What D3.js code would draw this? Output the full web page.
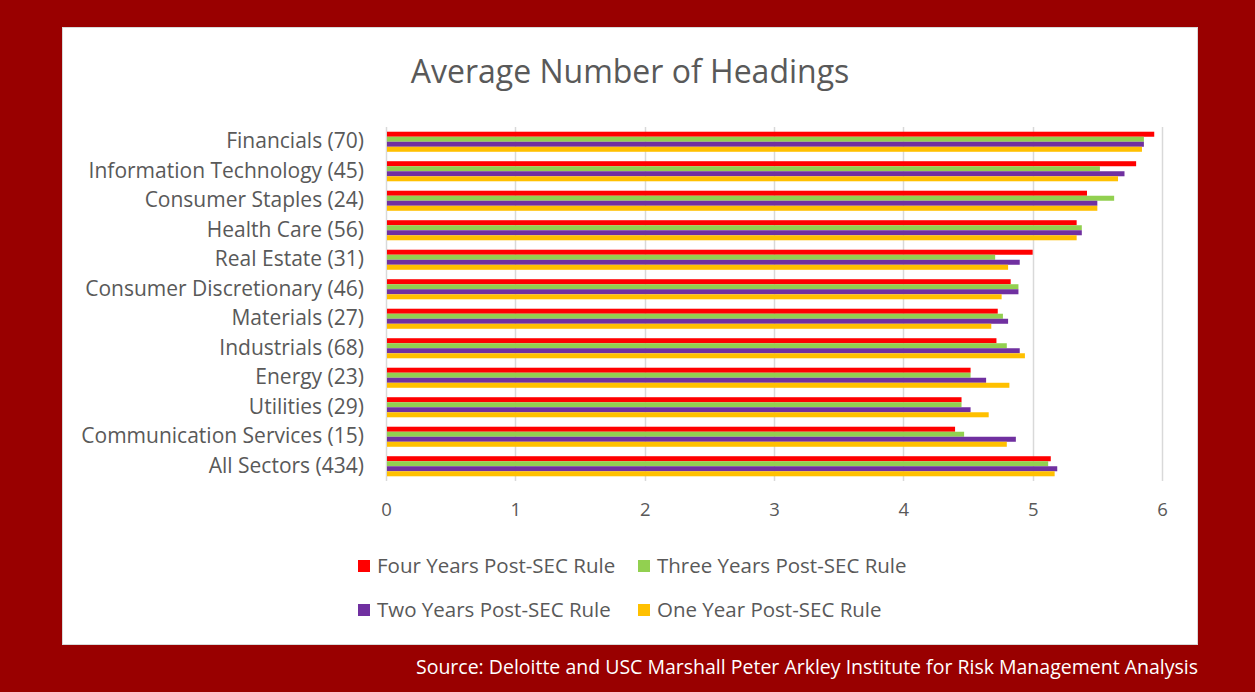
<!DOCTYPE html>
<html>
<head>
<meta charset="utf-8">
<script src="https://cdn.jsdelivr.net/npm/d3@7"></script>
<style>
    body { margin: 0; background: #990000; }
    svg text { font-family: "Open Sans", sans-serif; }
</style>
</head>
<body>
<div id="chart"></div>
<script>
// sector names, top to bottom
let sectors = ["Financials (70)", "Information Technology (45)", "Consumer Staples (24)",
    "Health Care (56)", "Real Estate (31)", "Consumer Discretionary (46)", "Materials (27)",
    "Industrials (68)", "Energy (23)", "Utilities (29)", "Communication Services (15)",
    "All Sectors (434)"];

let seriesNames = ["Four Years Post-SEC Rule", "Three Years Post-SEC Rule",
    "Two Years Post-SEC Rule", "One Year Post-SEC Rule"];

let fourYears = [5.94, 5.80, 5.42, 5.34, 5.00, 4.83, 4.73, 4.72, 4.52, 4.45, 4.40, 5.14];
let threeYears = [5.86, 5.52, 5.63, 5.38, 4.71, 4.89, 4.77, 4.80, 4.52, 4.45, 4.47, 5.12];
let twoYears = [5.86, 5.71, 5.50, 5.38, 4.90, 4.89, 4.81, 4.90, 4.64, 4.52, 4.87, 5.19];
let oneYear = [5.845, 5.66, 5.50, 5.34, 4.81, 4.76, 4.68, 4.94, 4.82, 4.66, 4.80, 5.17];

let xTicks = [0, 1, 2, 3, 4, 5, 6];
let colors = ["#ff0000", "#92d050", "#7030a0", "#ffc000"];

let seriesValues = [fourYears, threeYears, twoYears, oneYear];

let width = 1255;
let height = 692;
let plot = { left: 386, right: 1162, top: 127, bot: 481 };

let svg = d3.select("#chart")
    .append("svg")
    .attr("width", width)
    .attr("height", height);

svg.append("rect")
    .attr("width", width)
    .attr("height", height)
    .attr("fill", "#990000");

// white panel
svg.append("rect")
    .attr("x", 62.5)
    .attr("y", 27.5)
    .attr("width", 1135)
    .attr("height", 617)
    .attr("fill", "#ffffff")
    .attr("stroke", "#d9d9d9");

svg.append("text")
    .attr("x", 630)
    .attr("y", 83)
    .attr("text-anchor", "middle")
    .attr("font-size", 32)
    .attr("fill", "#595959")
    .text("Average Number of Headings");

let xScale = d3.scaleLinear()
    .domain([0, 6])
    .range([plot.left, plot.right]);

let yScale = d3.scaleBand()
    .domain(sectors)
    .range([plot.top, plot.bot])
    .paddingInner(0.32)
    .paddingOuter(0.16);

let inner = d3.scaleBand()
    .domain(d3.range(seriesNames.length))
    .range([0, yScale.bandwidth()]);

// gridlines
svg.append("g")
    .selectAll("line")
    .data(xTicks)
    .join("line")
    .attr("x1", d => Math.round(xScale(d)) + 0.5)
    .attr("x2", d => Math.round(xScale(d)) + 0.5)
    .attr("y1", plot.top)
    .attr("y2", plot.bot)
    .attr("stroke", "#d9d9d9")
    .attr("stroke-width", 1.5);

// bars
seriesValues.forEach(function (values, i) {
    svg.append("g")
        .selectAll("rect")
        .data(values)
        .join("rect")
        .attr("x", xScale(0) + 1)
        .attr("y", (d, j) => yScale(sectors[j]) + inner(i))
        .attr("width", d => xScale(d) - xScale(0) - 1)
        .attr("height", inner.bandwidth())
        .attr("fill", colors[i]);
});

// x axis labels
let xAxis = svg.append("g")
    .attr("transform", "translate(0," + plot.bot + ")")
    .call(d3.axisBottom(xScale).tickValues(xTicks).tickFormat(d3.format("d"))
        .tickSize(0).tickPadding(22));
xAxis.select(".domain").remove();
xAxis.selectAll("text")
    .attr("font-size", 18.5)
    .attr("font-family", "'Open Sans', sans-serif")
    .attr("fill", "#595959");

// category labels
let yAxis = svg.append("g")
    .attr("transform", "translate(" + plot.left + ",0)")
    .call(d3.axisLeft(yScale).tickSize(0).tickPadding(22));
yAxis.select(".domain").remove();
yAxis.selectAll("text")
    .attr("font-size", 21)
    .attr("font-family", "'Open Sans', sans-serif")
    .attr("fill", "#595959");

// legend
let legendPos = [[358, 566], [638, 566], [358, 610], [638, 610]];
seriesNames.forEach(function (name, i) {
    let g = svg.append("g")
        .attr("transform", "translate(" + legendPos[i][0] + "," + legendPos[i][1] + ")");
    g.append("rect")
        .attr("x", 0)
        .attr("y", -6)
        .attr("width", 12)
        .attr("height", 12)
        .attr("fill", colors[i]);
    g.append("text")
        .attr("x", 19)
        .attr("y", 0)
        .attr("dy", "0.35em")
        .attr("font-size", 20.5)
        .attr("fill", "#595959")
        .text(name);
});

svg.append("text")
    .attr("x", 1198)
    .attr("y", 674)
    .attr("text-anchor", "end")
    .attr("font-size", 19.5)
    .attr("fill", "#ffffff")
    .text("Source: Deloitte and USC Marshall Peter Arkley Institute for Risk Management Analysis");
</script>
</body>
</html>
